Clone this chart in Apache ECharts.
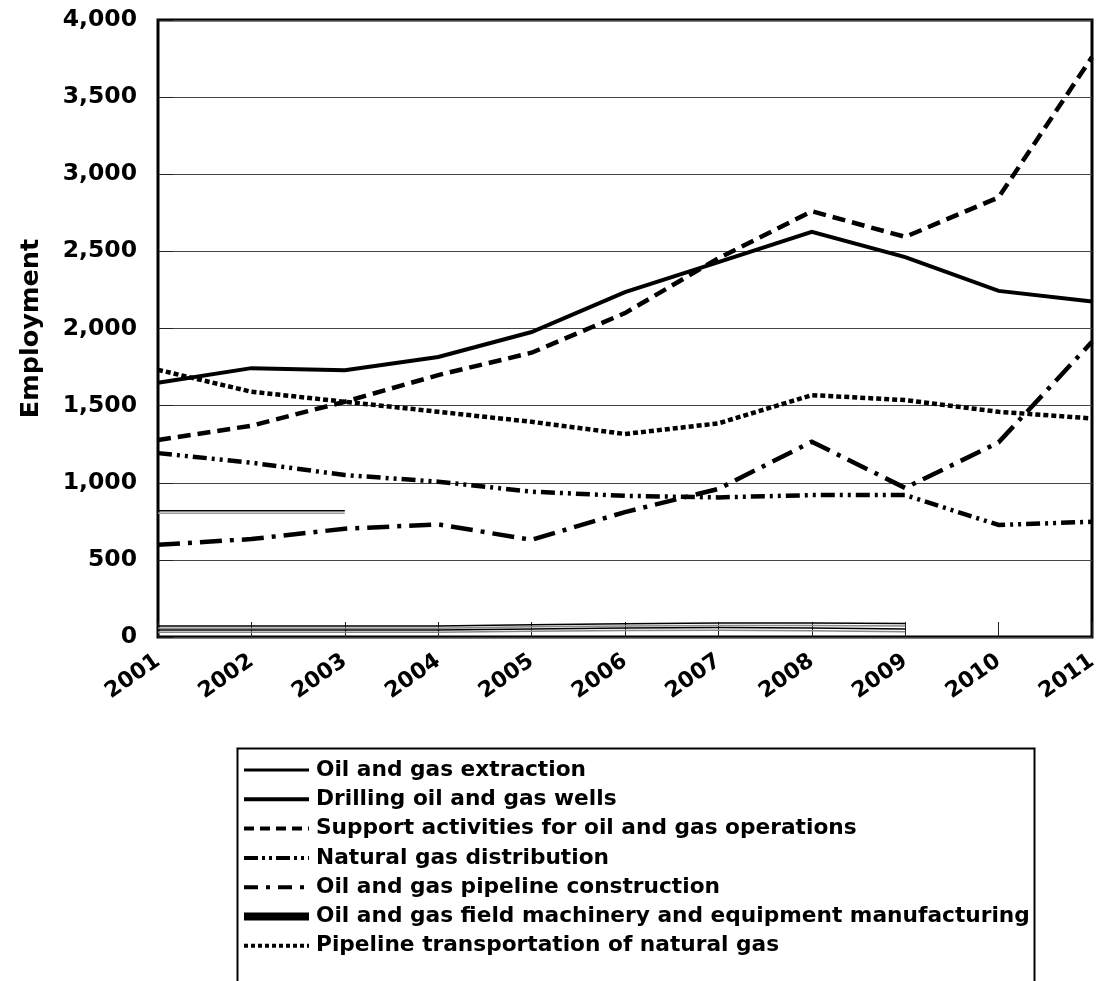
<!DOCTYPE html>
<html>
<head>
<meta charset="utf-8">
<script src="https://cdn.jsdelivr.net/npm/echarts@6/dist/echarts.min.js"></script>
<style>html,body{margin:0;padding:0;background:#fff}#c{width:1101px;height:981px}</style>
</head>
<body>
<div id="c"></div>
<script>
var years = ['2001','2002','2003','2004','2005','2006','2007','2008','2009','2010','2011'];
var yTicks = [0, 500, 1000, 1500, 2000, 2500, 3000, 3500, 4000];

var drilling      = [1648, 1743, 1730, 1815, 1977, 2236, 2430, 2627, 2463, 2244, 2175];
var support       = [1277, 1370, 1525, 1698, 1843, 2100, 2455, 2760, 2594, 2850, 3760];
var gasDist       = [1192, 1130, 1050, 1007, 942, 915, 905, 920, 920, 726, 747];
var pipeConstr    = [598, 635, 702, 730, 630, 810, 960, 1266, 966, 1262, 1914];
var pipeTransport = [1732, 1590, 1525, 1460, 1395, 1316, 1385, 1568, 1536, 1460, 1417];
var extraction    = [71, 71, 72, 72, 80, 86, 90, 90, 88, null, null];
var extractionB   = [56, 56, 57, 57, 66, 72, 75, 74, 72, null, null];
var extractionUp  = [819, 819, 819, null, null, null, null, null, null, null, null];
var extractionUpB = [803, 803, 803, null, null, null, null, null, null, null, null];
var machinery     = [45, 45, 46, 46, 52, 58, 62, 58, 52, null, null];
var machineryB    = [30, 30, 31, 31, 38, 42, 44, 40, 34, null, null];

var names = [
  'Oil and gas extraction',
  'Drilling oil and gas wells',
  'Support activities for oil and gas operations',
  'Natural gas distribution',
  'Oil and gas pipeline construction',
  'Oil and gas field machinery and equipment manufacturing',
  'Pipeline transportation of natural gas'
];

var FONT = 'DejaVu Sans';
function ln(name, data, width, type, color, z) {
  return {
    name: name, type: 'line', data: data, symbol: 'none', showSymbol: false, connectNulls: false,
    animation: false, z: z || 3,
    itemStyle: { color: '#000', opacity: 0 },
    lineStyle: { color: color || '#000', width: width, type: type, cap: 'butt', join: 'miter' }
  };
}

var chart = echarts.init(document.getElementById('c'), null, { renderer: 'canvas' });
chart.setOption({
  backgroundColor: '#fff',
  animation: false,
  grid: { left: 158, right: 9, top: 20, bottom: 344, show: true, borderColor: '#000', borderWidth: 3, backgroundColor: 'transparent' },
  xAxis: {
    type: 'category', data: years, boundaryGap: false,
    axisLine: { show: false },
    axisTick: { show: true, inside: true, length: 15, lineStyle: { color: '#222', width: 1 } },
    axisLabel: { rotate: 35, margin: 22, color: '#000', fontFamily: FONT, fontWeight: 'bold', fontSize: 22 },
    splitLine: { show: false }
  },
  yAxis: {
    type: 'value', min: 0, max: 4000, interval: 500,
    name: 'Employment', nameLocation: 'middle', nameGap: 114, nameRotate: 90,
    nameTextStyle: { color: '#000', fontFamily: FONT, fontWeight: 'bold', fontSize: 25.5 },
    axisLine: { show: false },
    axisTick: { show: true, inside: true, length: 15, lineStyle: { color: '#222', width: 1 } },
    axisLabel: { color: '#000', fontFamily: FONT, fontWeight: 'bold', fontSize: 23.5, margin: 21,
      formatter: function (v) { return v.toLocaleString('en-US'); } },
    splitLine: { show: true, lineStyle: { color: '#444', width: 1 } }
  },
  legend: {
    orient: 'vertical', left: 240, top: 759, itemWidth: 65, itemHeight: 14, itemGap: 7.3,
    padding: 0,
    itemStyle: { opacity: 0 },
    textStyle: { color: '#000', fontFamily: FONT, fontWeight: 'bold', fontSize: 21.7, lineHeight: 22, padding: [0, 0, 0, 2] },
    data: [
      { name: names[0], itemStyle: { opacity: 0 }, lineStyle: { width: 3, type: 'solid', color: '#000' } },
      { name: names[1], itemStyle: { opacity: 0 }, lineStyle: { width: 4, type: 'solid', color: '#000' } },
      { name: names[2], itemStyle: { opacity: 0 }, lineStyle: { width: 4, type: [10, 6], color: '#000' } },
      { name: names[3], itemStyle: { opacity: 0 }, lineStyle: { width: 4, type: [14, 4, 3, 4, 3, 4], color: '#000' } },
      { name: names[4], itemStyle: { opacity: 0 }, lineStyle: { width: 4, type: [14, 8, 4, 8], color: '#000' } },
      { name: names[5], itemStyle: { opacity: 0 }, lineStyle: { width: 8, type: 'solid', color: '#000' } },
      { name: names[6], itemStyle: { opacity: 0 }, lineStyle: { width: 4, type: [4, 3], color: '#000' } }
    ]
  },
  graphic: [
    { type: 'rect', left: 235, top: 746, shape: { width: 797, height: 300 }, style: { fill: 'none', stroke: '#000', lineWidth: 2 }, z: 0 }
  ],
  series: [
    ln(names[0], extraction, 1.5, 'solid', '#000', 2),
    ln(names[0], extractionB, 1.5, 'solid', '#888', 2),
    ln(names[0], extractionUp, 1.5, 'solid', '#000', 2),
    ln(names[0], extractionUpB, 1.5, 'solid', '#999', 2),
    ln(names[1], drilling, 4, 'solid'),
    ln(names[2], support, 4.5, [13, 7]),
    ln(names[3], gasDist, 4.5, [14, 5, 3, 5, 3, 5]),
    ln(names[4], pipeConstr, 4.5, [22, 8, 4, 8]),
    ln(names[5], machinery, 1.5, 'solid', '#000', 2),
    ln(names[5], machineryB, 1.5, 'solid', '#888', 2),
    ln(names[6], pipeTransport, 4.5, [5, 3])
  ]
});
</script>
</body>
</html>
